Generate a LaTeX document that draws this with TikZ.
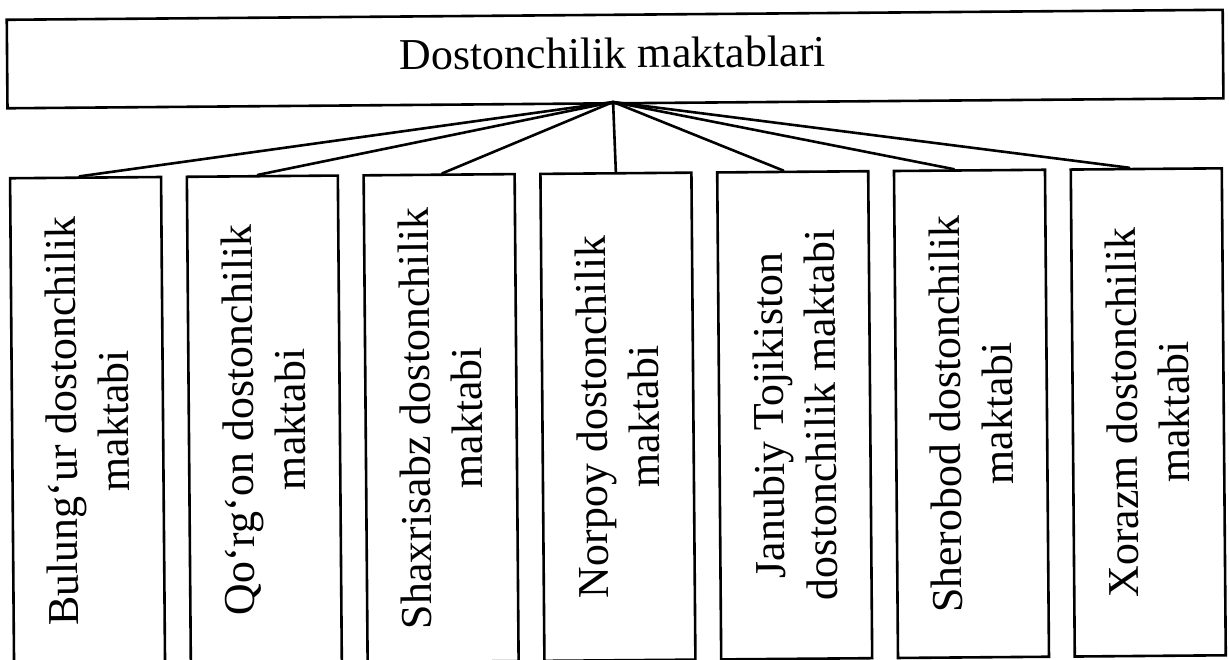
\documentclass[tikz,border=0pt]{standalone}
\usepackage{fontspec}
\setmainfont{Liberation Serif}
\usetikzlibrary{calc}
\tikzset{
  boxline/.style={draw, line width=2.6pt, inner sep=0pt},
  topbox/.style={boxline, minimum width=1216pt, minimum height=88.5pt, anchor=north west},
  childbox/.style={boxline, minimum width=151pt, minimum height=487pt, anchor=north west},
  childtext/.style={rotate=90, align=center, font=\fontsize{44}{52}\selectfont, inner sep=0pt},
  toptext/.style={font=\fontsize{44}{52}\selectfont, inner sep=0pt, anchor=base},
  conn/.style={line width=2.6pt, line cap=round},
}
\begin{document}
\begin{tikzpicture}[x=1pt,y=-1pt]
\useasboundingbox (0,0) rectangle (1229,660);
\begin{scope}[rotate around={0.47:(614,330)}, transform shape]
  \node[topbox] (top) at (8,13.5) {};
  \node[toptext] (toplabel) at (615,68) {Dostonchilik maktablari};
  \coordinate (hub) at (615,102);

  \node[childbox] (b1) at (10,172) {};
  \node[childbox] (b2) at (186.8,172) {};
  \node[childbox] (b3) at (363.6,172) {};
  \node[childbox] (b4) at (540.4,172) {};
  \node[childbox] (b5) at (717.2,172) {};
  \node[childbox] (b6) at (894,172) {};
  \node[childbox] (b7) at (1070.8,172) {};

  \node[childtext] (t1) at (b1.center) {Bulung‘ur dostonchilik\\maktabi};
  \node[childtext] (t2) at (b2.center) {Qo‘rg‘on dostonchilik\\maktabi};
  \node[childtext] (t3) at (b3.center) {Shaxrisabz dostonchilik\\maktabi};
  \node[childtext] (t4) at (b4.center) {Norpoy dostonchilik\\maktabi};
  \node[childtext] (t5) at (b5.center) {Janubiy Tojikiston\\dostonchilik maktabi};
  \node[childtext] (t6) at (b6.center) {Sherobod dostonchilik\\maktabi};
  \node[childtext] (t7) at (b7.center) {Xorazm dostonchilik\\maktabi};

  \draw[conn] (hub) -- ($(b1.north west)!0.46!(b1.north east)$);
  \draw[conn] (hub) -- ($(b2.north west)!0.47!(b2.north east)$);
  \draw[conn] (hub) -- ($(b3.north west)!0.52!(b3.north east)$);
  \draw[conn] (hub) -- ($(b4.north west)!0.5!(b4.north east)$);
  \draw[conn] (hub) -- ($(b5.north west)!0.44!(b5.north east)$);
  \draw[conn] (hub) -- ($(b6.north west)!0.40!(b6.north east)$);
  \draw[conn] (hub) -- ($(b7.north west)!0.39!(b7.north east)$);
\end{scope}
\end{tikzpicture}
\end{document}
